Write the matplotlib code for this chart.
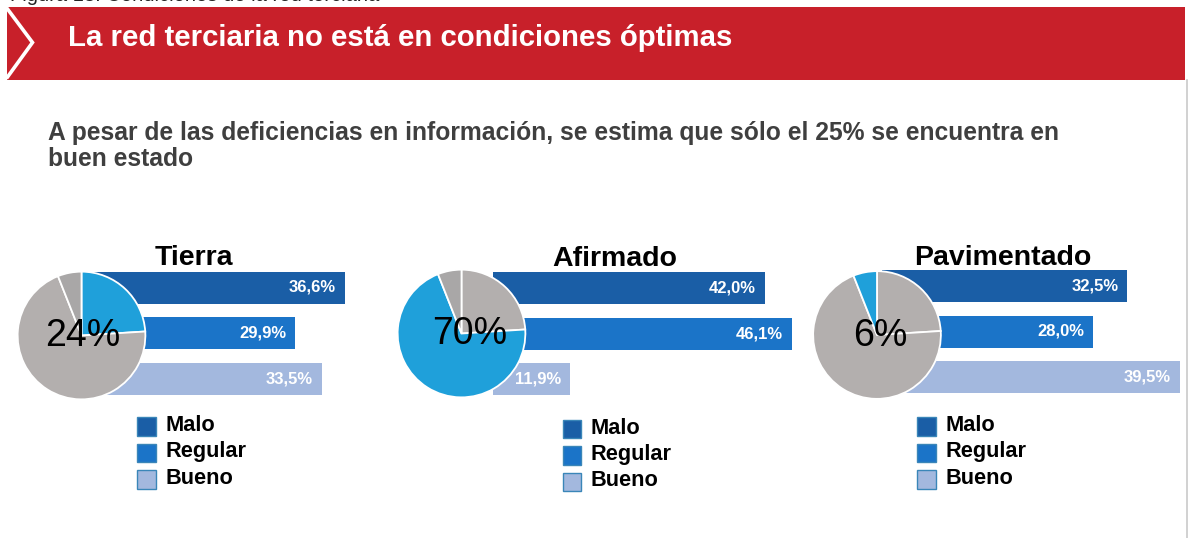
import matplotlib
matplotlib.use("Agg")
import matplotlib.pyplot as plt
from matplotlib.patches import Rectangle

# ---------------- data ----------------
road_types = ["Tierra", "Afirmado", "Pavimentado"]
network_share = [24, 70, 6]                # % of tertiary network by surface type
conditions = ["Malo", "Regular", "Bueno"]
cond_tierra = [36.6, 29.9, 33.5]
cond_afirmado = [42.0, 46.1, 11.9]
cond_pavimentado = [32.5, 28.0, 39.5]
cond_values = [cond_tierra, cond_afirmado, cond_pavimentado]

header_text = "La red terciaria no está en condiciones óptimas"
subtitle_lines = ["A pesar de las deficiencias en información, se estima que sólo el 25% se encuentra en",
                  "buen estado"]
caption_text = "Figura 13. Condiciones de la red terciaria"

# ---------------- style ----------------
FONT = "Liberation Sans"
plt.rcParams["font.family"] = [FONT, "DejaVu Sans"]
RED = "#c8202a"
COND_COLORS = ["#1a5ea6", "#1b74c8", "#a3b8de"]
PIE_HI = "#1fa0da"
PIE_GRAYS = ["#b3afae", "#b3afae", "#a9a7a7"]

W, H = 1188, 538
fig = plt.figure(figsize=(W / 100, H / 100), dpi=100)


def rect(x, y, w, h):
    return [x / W, 1 - (y + h) / H, w / W, h / H]


bg = fig.add_axes([0, 0, 1, 1], zorder=0)
bg.set_xlim(0, W)
bg.set_ylim(H, 0)
bg.axis("off")

# caption cut off at the top edge (as in the reference)
bg.text(10, 0.8, caption_text, color="#222222", fontsize=14.5, va="baseline", ha="left",
        zorder=1)

# header banner
bg.add_patch(Rectangle((7, 7), 1178, 73, color=RED, lw=0, zorder=2))
bg.plot([7.5, 32.5, 7.5], [9, 42.5, 77], color="white", lw=2.6, solid_joinstyle="miter",
        zorder=3)
bg.text(68, 46, header_text, color="white", fontsize=21.2, fontweight="bold",
        va="baseline", ha="left", zorder=3)
bg.plot([1186.5, 1186.5], [80, H], color="#c9c9c9", lw=1.2)

# subtitle
for k, line in enumerate(subtitle_lines):
    bg.text(48, 140 + 26.5 * k, line, color="#3f3f3f", fontsize=17.7, fontweight="bold",
            va="baseline", ha="left")

# ---------------- panels ----------------
# layout per panel (pixels)
bar_x0 = [74, 493, 882]
bar_scale = [7.4, 6.48, 7.55]
bar_c0 = [287.5, 288.5, 286]
pitch = 45.5
pie_c = [(81.5, 335.5), (461.5, 333.5), (877, 335)]
pie_r = 64.5
pct_dx = [1.5, 8.5, 3.5]
title_xy = [(193.5, 265), (615, 266), (1002.5, 265)]
legend_xy = [(137.3, 426.5), (562.7, 429), (917.3, 426.5)]
legend_pitch = 26.5
sq = 18.4
XMAX = 50

for i, name in enumerate(road_types):
    vals = cond_values[i]
    # bars
    axb = fig.add_axes(rect(bar_x0[i], bar_c0[i] - 0.5 * pitch, XMAX * bar_scale[i], 3 * pitch),
                       zorder=1)
    axb.barh(range(len(conditions)), vals, height=32 / pitch, color=COND_COLORS, lw=0)
    axb.set_xlim(0, XMAX)
    axb.set_ylim(2.5, -0.5)
    axb.axis("off")
    for j, v in enumerate(vals):
        axb.annotate(f"{v:.1f}".replace(".", ",") + "%", (v, j), xytext=(-6.5, 0),
                     textcoords="offset points", ha="right", va="center",
                     color="white", fontsize=12, fontweight="bold")

    # pie
    cx, cy = pie_c[i]
    axp = fig.add_axes(rect(cx - pie_r, cy - pie_r, 2 * pie_r, 2 * pie_r), zorder=2)
    cols = [PIE_HI if k == i else PIE_GRAYS[k] for k in range(len(network_share))]
    axp.pie(network_share, colors=cols, startangle=90, counterclock=False, radius=1,
            wedgeprops=dict(edgecolor="white", linewidth=1.3))
    axp.set_xlim(-1.01, 1.01)
    axp.set_ylim(-1.01, 1.01)
    axp.text(pct_dx[i] / pie_r, -0.01, f"{network_share[i]}%", ha="center", va="center",
             fontsize=27, color="black")

    # title
    tx, ty = title_xy[i]
    bg.text(tx, ty, name, ha="center", va="baseline", fontsize=20.5, fontweight="bold",
            color="black")

    # legend
    lx, ly = legend_xy[i]
    for j, lab in enumerate(conditions):
        yc = ly + j * legend_pitch
        bg.add_patch(Rectangle((lx, yc - sq / 2), sq, sq, facecolor=COND_COLORS[j],
                               edgecolor="#3a86b8", lw=1))
        bg.text(lx + 28, yc - 1, lab, ha="left", va="center", fontsize=15.7,
                fontweight="bold", color="black")

fig.savefig("out.png", dpi=100)
